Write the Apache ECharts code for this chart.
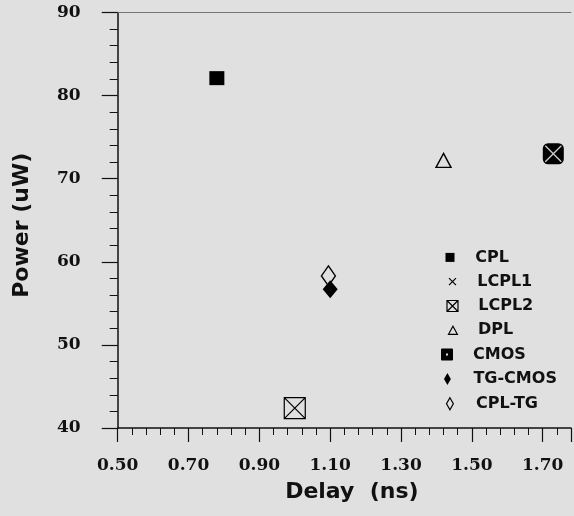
<!DOCTYPE html>
<html><head><meta charset="utf-8">
<script src="https://cdn.jsdelivr.net/npm/echarts@6/dist/echarts.min.js"></script>
<style>html,body{margin:0;padding:0;background:#e0e0e0}#c{width:574px;height:516px}</style>
</head><body><div id="c"></div>
<script>
// ---- data ----
const seriesNames = ['CPL', 'LCPL1', 'LCPL2', 'DPL', 'CMOS', 'TG-CMOS', 'CPL-TG'];
const delayNs = [0.78, 1.73, 1.00, 1.42, 1.73, 1.10, 1.095];
const powerUW = [82.1, 73.0, 42.4, 72.2, 73.0, 56.7, 58.3];
const xTickLabels = ['0.50', '0.70', '0.90', '1.10', '1.30', '1.50', '1.70'];
const yTickLabels = ['40', '50', '60', '70', '80', '90'];

// ---- styles ----
const P = {
  square: 'path://M0,0 L10,0 L10,10 L0,10 Z',
  box: 'path://M0,0 L20,0 L20,20 L0,20 Z M0,0 L20,20 M20,0 L0,20',
  cross: 'path://M0,0 L10,10 M10,0 L0,10',
  tri: 'path://M5,0 L10,9 L0,9 Z',
  diamond: 'path://M4,0 L8,7 L4,14 L0,7 Z',
  cmosLegend: 'path://M1,0 L11,0 Q12,0 12,1 L12,11 Q12,12 11,12 L1,12 Q0,12 0,11 L0,1 Q0,0 1,0 Z M5,5 L5,7 L7,7 L7,5 Z'
};
const markStyles = [
  {symbol: 'rect', size: [15, 14], fill: '#000', stroke: '#000', bw: 0, icon: P.square, iconSize: 9, z: 2},
  {symbol: P.cross, size: 16, fill: 'none', stroke: '#cfcfcf', bw: 1.3, icon: P.cross, iconSize: 7, iconStroke: '#000', z: 4},
  {symbol: P.box, size: 21, fill: 'none', stroke: '#000', bw: 1.2, icon: P.box, iconSize: 11, z: 2},
  {symbol: P.tri, size: [15, 14], fill: 'none', stroke: '#000', bw: 1.4, icon: P.tri, iconSize: 8, z: 2},
  {symbol: 'roundRect', size: 21, fill: '#000', stroke: '#000', bw: 0, icon: P.cmosLegend, iconSize: 12, z: 3, dx: -3},
  {symbol: 'diamond', size: [15, 18], fill: '#000', stroke: '#000', bw: 0, icon: P.diamond, iconSize: 12, z: 3},
  {symbol: 'diamond', size: [14, 20], fill: 'none', stroke: '#000', bw: 1.4, icon: P.diamond, iconSize: 12, z: 2}
];

const txt = '#111';
const tickFont = {fontFamily: 'DejaVu Serif', fontWeight: 'bold', fontSize: 17, color: txt};
const nameFont = {fontFamily: 'DejaVu Sans', fontWeight: 'bold', fontSize: 22, color: txt};

const iconCX = 450, textX = 491, legendTop0 = 257.4, legendStep = 24.3;
const xMin = 0.5, xMax = 1.78;

const chart = echarts.init(document.getElementById('c'), null, {renderer: 'canvas'});
chart.setOption({
  backgroundColor: '#e0e0e0',
  animation: false,
  grid: {left: 117.7, right: 0, top: 12.5, bottom: 88},
  legend: seriesNames.map((n, i) => {
    const s = markStyles[i];
    const dx = s.dx || 0;
    const left = iconCX + dx - 5 - s.iconSize / 2;
    return {
      data: [n], orient: 'vertical', selectedMode: false,
      left: left,
      top: legendTop0 + i * legendStep - 13,
      itemWidth: (textX + dx) - (left + 5) - 5, itemHeight: s.iconSize,
      icon: s.icon,
      itemStyle: {color: s.fill, borderColor: s.iconStroke || s.stroke, borderWidth: s.bw ? 1.2 : 0},
      textStyle: {fontFamily: 'DejaVu Sans', fontWeight: 'bold', fontSize: 16, color: txt}
    };
  }),
  xAxis: [{
    type: 'value', position: 'bottom', min: xMin, max: xMax, interval: 0.2,
    name: 'Delay  (ns)', nameLocation: 'middle', nameGap: 53,
    nameTextStyle: Object.assign({padding: [0, 0, 0, 15]}, nameFont),
    axisLine: {show: true, lineStyle: {color: txt, width: 1.5}},
    axisTick: {show: true, length: 14, lineStyle: {color: txt, width: 1.2}},
    axisLabel: Object.assign({margin: 29, formatter: v => (Math.abs((v - 0.5) / 0.2 - Math.round((v - 0.5) / 0.2)) < 1e-6 ? (xTickLabels[Math.round((v - 0.5) / 0.2)] || '') : '')}, tickFont),
    splitLine: {show: false}
  }, {
    type: 'value', position: 'bottom', min: xMin, max: xMax, interval: 0.04,
    axisLine: {show: false},
    axisTick: {show: true, length: 7, lineStyle: {color: txt, width: 1}},
    axisLabel: {show: false}, splitLine: {show: false}
  }, {
    type: 'value', position: 'top', min: xMin, max: xMax,
    axisLine: {show: true, lineStyle: {color: '#777', width: 1}},
    axisTick: {show: false}, axisLabel: {show: false}, splitLine: {show: false}
  }],
  yAxis: {
    type: 'value', min: 40, max: 90, interval: 10,
    name: 'Power (uW)', nameLocation: 'middle', nameGap: 84,
    nameTextStyle: Object.assign({padding: [0, 10, 0, 0]}, nameFont),
    axisLine: {show: true, lineStyle: {color: txt, width: 1.5}},
    axisTick: {show: true, length: 16, lineStyle: {color: txt, width: 1.2}},
    minorTick: {show: true, splitNumber: 5, length: 8, lineStyle: {color: txt, width: 1}},
    axisLabel: Object.assign({margin: 37, formatter: v => yTickLabels[Math.round((v - 40) / 10)] || ''}, tickFont),
    splitLine: {show: false}, minorSplitLine: {show: false}
  },
  series: seriesNames.map((n, i) => {
    const s = markStyles[i];
    return {
      type: 'scatter', name: n, silent: true, z: s.z, xAxisIndex: 0,
      data: [[delayNs[i], powerUW[i]]],
      symbol: s.symbol, symbolSize: s.size,
      itemStyle: {color: s.fill, borderColor: s.stroke, borderWidth: s.bw, opacity: 1},
      emphasis: {disabled: true}
    };
  })
});
</script></body></html>
